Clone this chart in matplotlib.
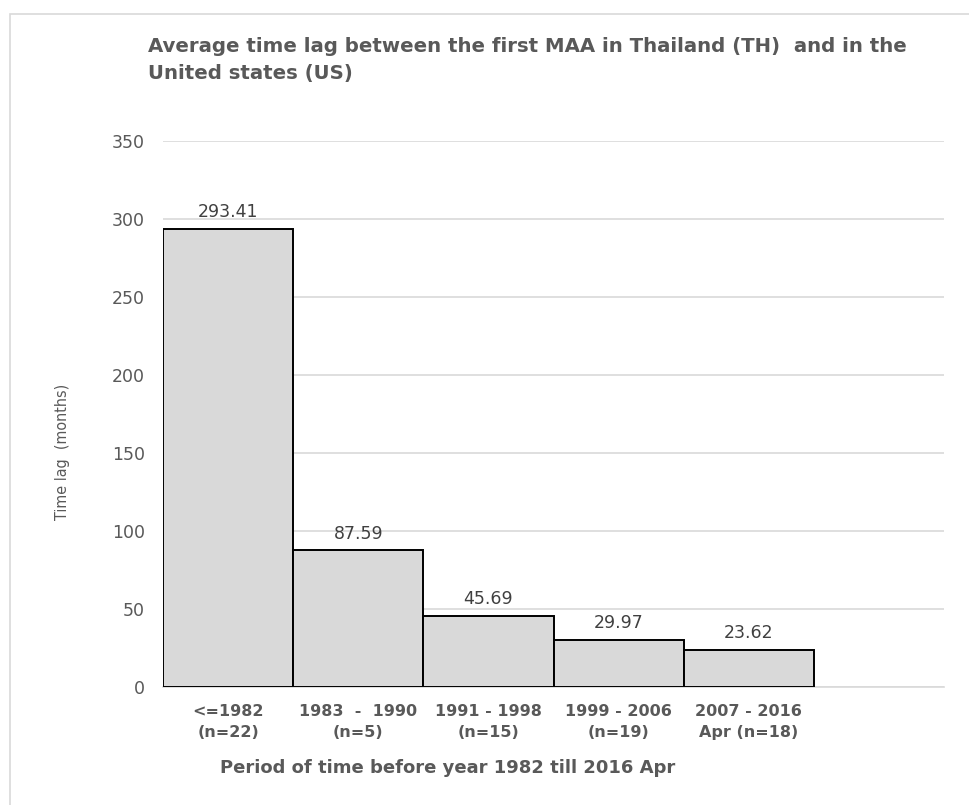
import matplotlib
matplotlib.use("Agg")
import matplotlib.pyplot as plt
from matplotlib.patches import Rectangle

# Data
periods = ["<=1982\n(n=22)", "1983  -  1990\n(n=5)", "1991 - 1998\n(n=15)",
           "1999 - 2006\n(n=19)", "2007 - 2016\nApr (n=18)"]
time_lag = [293.41, 87.59, 45.69, 29.97, 23.62]
y_ticks = [0, 50, 100, 150, 200, 250, 300, 350]

text_gray = "#595959"
plt.rcParams["font.family"] = ["DejaVu Sans"]

fig = plt.figure(figsize=(9.70, 8.05), dpi=100)
fig.patch.set_facecolor("white")

# light frame around the chart area
fig.patches.append(Rectangle((10 / 970, -0.01), 1.0, 1 - 14 / 805 + 0.01,
                             transform=fig.transFigure, fill=False,
                             edgecolor="#d9d9d9", linewidth=1.2))

ax = fig.add_axes([163 / 970, 1 - 687 / 805, (944 - 163) / 970, (687 - 141) / 805])

x = list(range(len(periods)))
ax.bar(x, time_lag, width=1.0, color="#d9d9d9", edgecolor="black",
       linewidth=1.4, zorder=3)

for xi, v in zip(x, time_lag):
    ax.text(xi, v + 5, f"{v:.2f}", ha="center", va="bottom",
            fontsize=12.5, color="#404040", zorder=4)

ax.set_xlim(-0.5, 5.5)
ax.set_ylim(0, 350)
ax.set_yticks(y_ticks)
ax.set_yticklabels([str(t) for t in y_ticks], fontsize=12.5, color=text_gray)
ax.tick_params(axis="y", length=0, pad=13)
ax.set_xticks(x)
ax.set_xticklabels(periods, fontsize=11.5, fontweight="bold", color=text_gray,
                   linespacing=1.5)
ax.tick_params(axis="x", length=0, pad=12)

ax.grid(axis="y", color="#d9d9d9", linewidth=1.2, zorder=0)
for side in ["top", "right", "left"]:
    ax.spines[side].set_visible(False)
ax.spines["bottom"].set_color("#d9d9d9")
ax.spines["bottom"].set_linewidth(1.2)

fig.text(63 / 970, 1 - 452 / 805, "Time lag  (months)", rotation=90,
         ha="center", va="center", fontsize=11.5, color=text_gray,
         family=["DejaVu Sans"], fontstretch="condensed")

fig.text(220 / 970, 1 - 768 / 805, "Period of time before year 1982 till 2016 Apr",
         ha="left", va="center", fontsize=13, fontweight="bold", color=text_gray)

fig.text(148 / 970, 1 - 46 / 805,
         "Average time lag between the first MAA in Thailand (TH)  and in the",
         ha="left", va="center", fontsize=14.2, fontweight="bold", color=text_gray)
fig.text(148 / 970, 1 - 74 / 805, "United states (US)",
         ha="left", va="center", fontsize=14.2, fontweight="bold", color=text_gray)

fig.savefig("out.png", dpi=100, facecolor="white")
